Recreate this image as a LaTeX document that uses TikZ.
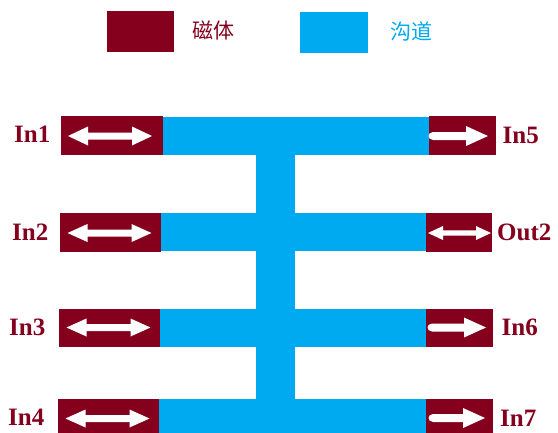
\documentclass[tikz,border=0pt]{standalone}
\usepackage{fontspec}
\setmainfont{Liberation Serif}
\newfontfamily\cjk{Noto Sans CJK SC}
\definecolor{mag}{RGB}{133,0,28}
\definecolor{chan}{RGB}{0,170,240}
\newcommand\DblArr[6]{% cx cy halflen headlen headhalf shafthalf
  \fill[white] (#1-#3,#2) -- (#1-#3+#4,#2-#5) -- (#1-#3+#4,#2-#6) -- (#1+#3-#4,#2-#6) -- (#1+#3-#4,#2-#5) -- (#1+#3,#2) -- (#1+#3-#4,#2+#5) -- (#1+#3-#4,#2+#6) -- (#1-#3+#4,#2+#6) -- (#1-#3+#4,#2+#5) -- cycle;}
\newcommand\RArr[3]{% x0 x1 cy
  \fill[white] (#1,#3-4) -- (#2-22,#3-4) -- (#2-22,#3-10) -- (#2,#3) -- (#2-22,#3+10) -- (#2-22,#3+4) -- (#1,#3+4) .. controls (#1-6,#3+3.5) and (#1-6,#3-3.5) .. (#1,#3-4) -- cycle;}
\tikzset{
  magbox/.style={fill=mag, draw=none, inner sep=0pt, anchor=north west},
  lbl/.style={text=mag, font=\fontsize{25}{25}\selectfont\bfseries, inner sep=0pt},
}
\begin{document}
\begin{tikzpicture}[x=1pt,y=-1pt]
\useasboundingbox (0,0) rectangle (558,432);
% legend
\node[magbox, minimum width=67.5pt, minimum height=41pt] (legm) at (106.5,10.5) {};
\node[anchor=west, inner sep=0pt, text=mag, font=\cjk\fontsize{21}{21}\selectfont] (legmt) at (192,30) {磁体};
\node[fill=chan, inner sep=0pt, anchor=north west, minimum width=68pt, minimum height=41pt] (legc) at (300,11.3) {};
\node[anchor=west, inner sep=0pt, text=chan, font=\cjk\fontsize{21}{21}\selectfont] (legct) at (390,31) {沟道};
% channels
\fill[chan] (256,116.5) rectangle (295,432);
\fill[chan] (160,116.5) rectangle (430,155);
\fill[chan] (158,213) rectangle (428,251);
\fill[chan] (158,308.5) rectangle (428,346.5);
\fill[chan] (157,399) rectangle (428,437);
% magnets left
\node[magbox, minimum width=102pt, minimum height=38.5pt] (m1) at (61,116) {};
\node[magbox, minimum width=101pt, minimum height=38.5pt] (m2) at (60,213) {};
\node[magbox, minimum width=101.5pt, minimum height=38pt] (m3) at (58.7,308.3) {};
\node[magbox, minimum width=101.5pt, minimum height=38pt] (m4) at (57.7,399) {};
% magnets right
\node[magbox, minimum width=67pt, minimum height=38.5pt] (m5) at (428.3,116) {};
\node[magbox, minimum width=66pt, minimum height=38.5pt] (m6) at (426,213) {};
\node[magbox, minimum width=67pt, minimum height=38pt] (m7) at (425.7,308.3) {};
\node[magbox, minimum width=67pt, minimum height=38pt] (m8) at (426,399) {};
% arrows
\DblArr{110}{136}{42}{20}{9.5}{3.5}
\DblArr{109.5}{233}{42}{20}{9}{3.5}
\DblArr{108.5}{327.5}{42}{20}{9}{3.5}
\DblArr{107.5}{418.5}{42}{20}{9}{3.5}
\DblArr{459.5}{233}{31.5}{15}{7}{2.7}
\RArr{433}{488}{136}
\RArr{432}{486}{327.5}
\RArr{433}{485}{418}
% labels
\node[lbl, anchor=east] (l1) at (50.5,134) {In1};
\node[lbl, anchor=east] (l2) at (48.5,232) {In2};
\node[lbl, anchor=east] (l3) at (45.5,327) {In3};
\node[lbl, anchor=east] (l4) at (44.5,417.5) {In4};
\node[lbl, anchor=west] (l5) at (502.5,135) {In5};
\node[lbl, anchor=west] (l6) at (497,232) {Out2};
\node[lbl, anchor=west] (l7) at (501.5,327) {In6};
\node[lbl, anchor=west] (l8) at (500,418) {In7};
\end{tikzpicture}
\end{document}
